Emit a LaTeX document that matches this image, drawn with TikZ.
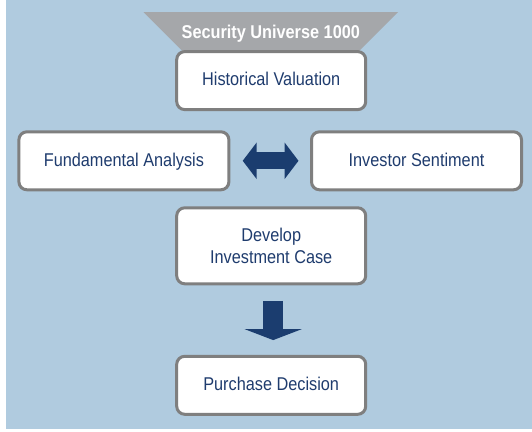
\documentclass[tikz,border=0pt]{standalone}
\usepackage{fontspec}
\usetikzlibrary{positioning, arrows.meta}
\newfontfamily\boxfont[FakeStretch=0.88]{Liberation Sans}
\definecolor{panelblue}{HTML}{B0CBDF}
\definecolor{bannergray}{HTML}{A5A7AA}
\definecolor{boxgray}{HTML}{7F7F7F}
\definecolor{textblue}{HTML}{1F3C6E}
\definecolor{arrowblue}{HTML}{1B3D6F}

\begin{document}
\begin{tikzpicture}
    [
        x=1pt, y=1pt, node distance=80pt and 146pt, on grid,
        step_box/.style={rectangle, rounded corners=8pt, draw=boxgray, fill=white, line width=3pt, minimum width=189pt, minimum height=58pt, align=center, text=textblue, text height=13.5pt, text depth=3pt, font=\boxfont\fontsize{18.5}{22}\selectfont},
        wide_box/.style={step_box, minimum width=210pt},
        tall_box/.style={step_box, minimum height=76pt, text height=, text depth=},
        block_arrow/.style={line width=17pt, color=arrowblue},
    ]
        \useasboundingbox (0,0) rectangle (532,431) ;
        \fill[panelblue] (6,2) rectangle (532,431) ;
        \fill[bannergray] (143.5,418.8) -- (398,418.8) -- (358,378.8) -- (183.5,378.8) -- cycle ;
        \node[anchor=base, text=white, font=\boxfont\bfseries\fontsize{18.5}{22}\selectfont] (universe) at (270.8,392.3) {Security Universe 1000} ;
        \node[step_box] (hist) at (271.2,350.4) {Historical Valuation} ;
        \node[wide_box] (fund) [below left = 80.2pt and 147.3pt of hist] {Fundamental Analysis} ;
        \node[wide_box] (inv) [below right = 80.2pt and 145.3pt of hist] {Investor Sentiment} ;
        \node[tall_box] (dev) [below = 165.2pt of hist] {Develop\\Investment Case} ;
        \node[step_box] (purch) [below = 139.5pt of dev] {Purchase Decision} ;
        \draw[block_arrow, {Triangle[width=36pt, length=14pt]}-{Triangle[width=36pt, length=14pt]}, shorten <=12.3pt, shorten >=11.5pt] (fund.east) -- (inv.west) ;
        \draw[block_arrow, line width=20pt, -{Triangle[width=57pt, length=11pt]}, shorten <=15.7pt, shorten >=14.7pt] ([xshift=2pt]dev.south) -- ([xshift=2pt]purch.north) ;
    \end{tikzpicture}
\end{document}
